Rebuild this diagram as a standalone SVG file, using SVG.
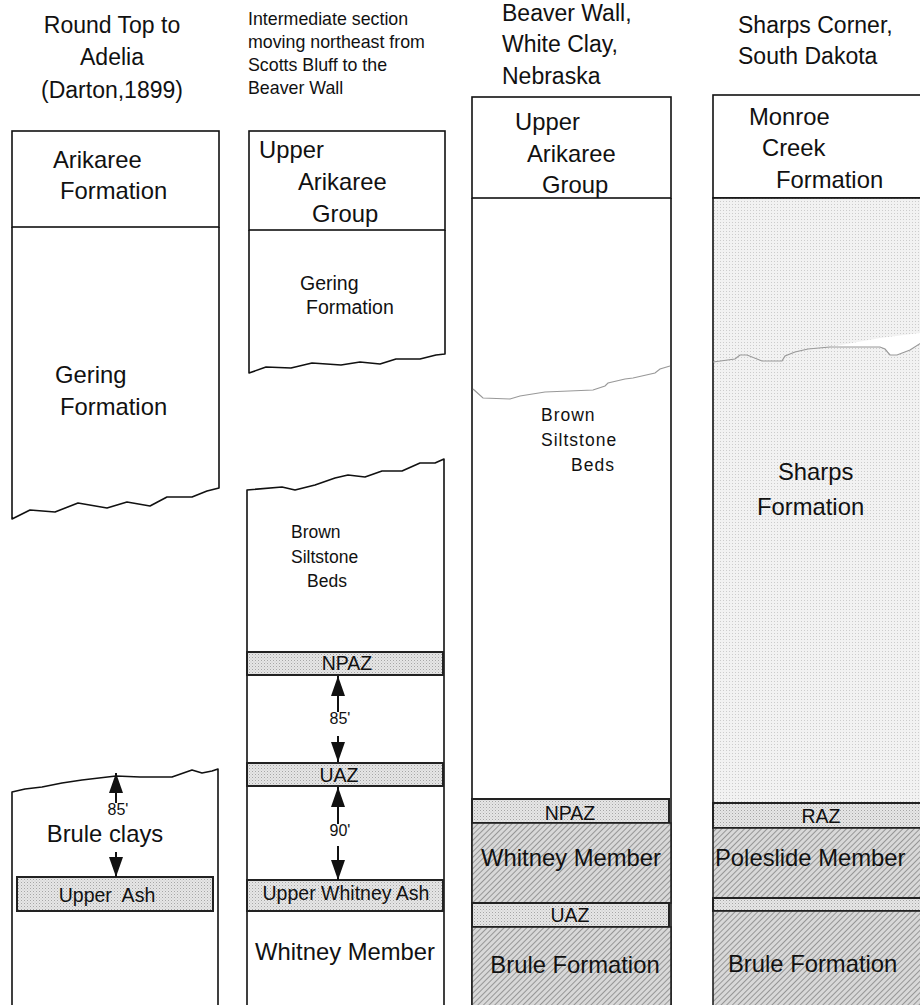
<svg xmlns="http://www.w3.org/2000/svg" width="920" height="1005" viewBox="0 0 920 1005">
<defs>
<style>
text{font-family:"Liberation Sans",Arial,sans-serif;fill:#111}
.h{font-size:23px}
.hs{font-size:17.8px}
.m{font-size:23.8px}
.s{font-size:17.5px}
.b{font-size:19.5px}
.n{font-size:16px}
.ol{fill:none;stroke:#111;stroke-width:1.6;stroke-linejoin:round}
.bx{fill:#fff;stroke:#111;stroke-width:1.6}
.band{fill:url(#stip);stroke:#222;stroke-width:2}
.hat{fill:url(#hatch);stroke:#222;stroke-width:1.6}
.wl{fill:none;stroke:#999;stroke-width:1.2}
.ar{stroke:#111;stroke-width:2;marker-end:url(#ah)}
.c{text-anchor:middle}
.pre{white-space:pre}
</style>
<pattern id="stip" width="3" height="3" patternUnits="userSpaceOnUse"><rect width="3" height="3" fill="#e6e6e6"/><rect width="1" height="1" fill="#a6a6a6"/><rect x="1.5" y="1.5" width="1" height="1" fill="#c4c4c4"/></pattern>
<pattern id="stipL" width="3" height="3" patternUnits="userSpaceOnUse"><rect width="3" height="3" fill="#f2f2f2"/><rect width="1" height="1" fill="#cccccc"/></pattern>
<pattern id="hatch" width="4" height="4" patternUnits="userSpaceOnUse" patternTransform="rotate(45)"><rect width="4" height="4" fill="#d8d8d8"/><line x1="0.5" y1="0" x2="0.5" y2="4" stroke="#969696" stroke-width="1"/></pattern>
<marker id="ah" viewBox="0 0 20 14" refX="20" refY="7" markerWidth="20" markerHeight="14" markerUnits="userSpaceOnUse" orient="auto"><path d="M0,0 L20,7 L0,14 Z" fill="#111"/></marker>
</defs>
<rect width="920" height="1005" fill="#fff"/>

<g id="headers">
<text class="h c" x="112" y="33">Round Top to</text>
<text class="h c" x="112" y="65">Adelia</text>
<text class="h c" x="112" y="98">(Darton,1899)</text>
<text class="hs" x="248" y="25">Intermediate section</text>
<text class="hs" x="248" y="48">moving northeast from</text>
<text class="hs" x="248" y="71">Scotts Bluff to the</text>
<text class="hs" x="248" y="94">Beaver Wall</text>
<text class="h" x="502" y="21">Beaver Wall,</text>
<text class="h" x="502" y="52">White Clay,</text>
<text class="h" x="502" y="84">Nebraska</text>
<text class="h" x="738" y="33">Sharps Corner,</text>
<text class="h" x="738" y="64">South Dakota</text>
</g>

<g id="col1-arikaree">
<rect class="bx" x="12" y="131" width="207" height="96"/>
<text class="m" x="53" y="168">Arikaree</text>
<text class="m" x="60" y="199">Formation</text>
</g>
<g id="col1-gering">
<path class="ol" d="M12,227 L12,519 L30,510 L55,512 L78,503 L107,508 L127,502 L150,506 L167,497 L192,497 L207,491 L219,488 L219,227"/>
<text class="m" x="55" y="383">Gering</text>
<text class="m" x="60" y="415">Formation</text>
</g>
<g id="col1-brule">
<path class="ol" d="M12,1005 L12,792 L25,789 L42,787 L62,783 L82,780 L116,776 L140,777 L172,777 L192,770 L202,773 L212,771 L218,769 L218,1005"/>
<text class="n c" x="118" y="815">85'</text>
<text class="m c" x="105" y="842">Brule clays</text>
</g>
<g id="col1-upper-ash">
<rect class="band" x="17" y="877" width="196" height="34"/>
<text class="b c pre" x="107" y="902">Upper  Ash</text>
</g>

<g id="col2-upper-arikaree">
<rect class="bx" x="249" y="131" width="196" height="99"/>
<text class="m" x="259" y="158">Upper</text>
<text class="m" x="298" y="190">Arikaree</text>
<text class="m" x="312" y="222">Group</text>
</g>
<g id="col2-gering">
<path class="ol" d="M249,230 L249,373 L266,367 L291,368 L312,363 L341,365 L360,362 L380,364 L396,359 L420,359 L436,355 L445,354 L445,230"/>
<text class="b" x="300" y="290">Gering</text>
<text class="b" x="306" y="314">Formation</text>
</g>
<g id="col2-lower">
<path class="ol" d="M247,1005 L247,490 L282,487 L295,490 L315,485 L335,478 L348,475 L365,477 L382,471 L402,471 L420,463 L435,463 L444,459 L444,1005"/>
<text class="s" x="291" y="538">Brown</text>
<text class="s" x="291" y="563">Siltstone</text>
<text class="s" x="307" y="587">Beds</text>
<text class="n c" x="340" y="724">85'</text>
<text class="n c" x="340" y="836">90'</text>
<text class="m c" x="345" y="960">Whitney Member</text>
</g>
<g id="col2-npaz">
<rect class="band" x="247" y="652" width="196" height="23"/>
<text class="b c" x="347" y="670">NPAZ</text>
</g>
<g id="col2-uaz">
<rect class="band" x="247" y="763" width="196" height="23"/>
<text class="b c" x="339" y="782">UAZ</text>
</g>
<g id="col2-upper-whitney-ash">
<rect class="band" x="247" y="880" width="196" height="31"/>
<text class="b c" x="346" y="900" font-size="20">Upper Whitney Ash</text>
</g>

<g id="col3-upper-arikaree">
<rect class="bx" x="472" y="97" width="199" height="101"/>
<text class="m" x="515" y="130">Upper</text>
<text class="m" x="527" y="162">Arikaree</text>
<text class="m" x="542" y="193">Group</text>
</g>
<g id="col3-brown-siltstone">
<path class="ol" d="M472,198 L472,1005 M671,198 L671,1005"/>
<path class="wl" d="M473,389 L483,398 L510,399 L520,396 L545,392 L593,390 L605,386 L608,383 L625,379 L633,378 L655,373 L660,369 L670,366"/>
<text class="s" x="541" y="421" letter-spacing="1">Brown</text>
<text class="s" x="541" y="446" letter-spacing="1">Siltstone</text>
<text class="s" x="571" y="471" letter-spacing="1">Beds</text>
</g>
<g id="col3-npaz">
<rect class="band" x="472" y="799" width="197" height="24"/>
<text class="b c" x="570" y="820">NPAZ</text>
</g>
<g id="col3-whitney">
<rect class="hat" x="472" y="823" width="199" height="80"/>
<text class="m c" x="571" y="866">Whitney Member</text>
</g>
<g id="col3-uaz">
<rect class="band" x="472" y="903" width="197" height="24"/>
<text class="b c" x="570" y="922">UAZ</text>
</g>
<g id="col3-brule">
<rect class="hat" x="472" y="927" width="199" height="80"/>
<text class="m c" x="575" y="973">Brule Formation</text>
</g>

<g id="col4-monroe-creek">
<rect class="bx" x="713" y="95" width="220" height="103"/>
<text class="m" x="749" y="125">Monroe</text>
<text class="m" x="762" y="156">Creek</text>
<text class="m" x="776" y="188">Formation</text>
</g>
<g id="col4-sharps">
<rect x="713" y="198" width="210" height="605" fill="url(#stipL)" stroke="#111" stroke-width="1.6"/>
<path d="M830,347 L880,347 L885,349 L890,355 L897,355 L910,350 L921,343 L921,333 L880,338 Z" fill="#fff"/>
<path class="wl" d="M713,362 L735,359 L740,355 L747,355 L762,361 L782,361 L785,356 L795,352 L808,349 L830,347 L880,347 L885,349 L890,355 L897,355 L910,350 L921,343"/>
<text class="m" x="778" y="480">Sharps</text>
<text class="m" x="757" y="515">Formation</text>
</g>
<g id="col4-raz">
<rect class="band" x="713" y="803" width="210" height="25"/>
<text class="b c" x="821" y="823">RAZ</text>
</g>
<g id="col4-poleslide">
<rect class="hat" x="713" y="828" width="210" height="70"/>
<text class="m" x="715" y="866" font-size="24.5">Poleslide Member</text>
</g>
<g id="col4-ash">
<rect class="band" x="713" y="898" width="210" height="13"/>
</g>
<g id="col4-brule">
<rect class="hat" x="713" y="911" width="210" height="96"/>
<text class="m" x="728" y="972">Brule Formation</text>
</g>

<g id="connectors">
<line class="ar" x1="116" y1="803" x2="116" y2="773"/>
<line class="ar" x1="116" y1="852" x2="116" y2="877"/>
<line class="ar" x1="338" y1="712" x2="338" y2="676"/>
<line class="ar" x1="338" y1="736" x2="338" y2="762"/>
<line class="ar" x1="338" y1="824" x2="338" y2="787"/>
<line class="ar" x1="338" y1="846" x2="338" y2="880"/>
</g>
</svg>
